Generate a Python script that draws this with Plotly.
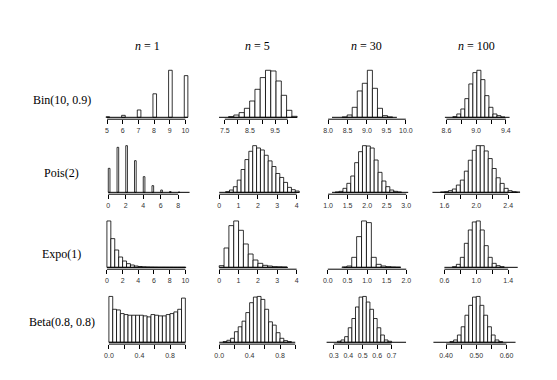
import plotly.graph_objects as go

# ---------------- data ----------------
row_labels = ["Bin(10, 0.9)", "Pois(2)", "Expo(1)", "Beta(0.8, 0.8)"]
row_label_y = [100, 173, 254, 322]
sample_sizes = [1, 5, 30, 100]

# each histogram: first bar left edge, step between bars, bar width, heights
bin_n1_bins = (4.93, 1.0, 0.23)
bin_n1_heights = [0.5, 2, 7.4, 23.7, 47.4, 42]
bin_n5_bins = (7.65, 0.21, 0.21)
bin_n5_heights = [0.7, 2.3, 4.7, 9, 16.3, 28, 39.7, 47, 46.3, 36.3, 22, 7, 1]
bin_n30_bins = (8.36, 0.13, 0.13)
bin_n30_heights = [1, 7, 30, 79, 102, 141, 87, 27, 5, 1]
bin_n100_bins = (8.686, 0.054, 0.054)
bin_n100_heights = [2, 10, 25, 56, 100, 134, 141, 113, 65, 30, 10, 5, 1]

pois_n1_bins = (0.0, 1.0, 0.19)
pois_n1_heights = [72, 135, 140, 95, 47, 20, 7, 2, 0.5]
pois_n5_bins = (0.33, 0.2, 0.2)
pois_n5_heights = [2, 7, 17, 37, 69, 99, 124, 141, 134, 128, 112, 95, 78, 57, 45, 30, 15, 8, 4]
pois_n30_bins = (1.18, 0.1, 0.1)
pois_n30_heights = [1, 3, 12, 27, 49, 89, 122, 140, 139, 133, 97, 60, 34, 17, 7, 3, 1]
pois_n100_bins = (1.55, 0.05, 0.05)
pois_n100_heights = [1, 2, 5, 10, 22, 37, 64, 97, 127, 141, 141, 125, 102, 72, 44, 27, 12, 5, 2, 1]

expo_n1_bins = (0.0, 0.5, 0.5)
expo_n1_heights = [139, 86, 52, 31, 19, 11, 7, 4, 2.5, 1.5, 1, 0.7, 0.5, 0.3, 0.3, 0.2, 0.2, 0.1, 0.1, 0.1]
expo_n5_bins = (0.0, 0.25, 0.25)
expo_n5_heights = [5, 58, 125, 139, 111, 70, 40, 22, 12, 6, 4, 2, 1.5, 1]
expo_n30_bins = (0.36, 0.125, 0.125)
expo_n30_heights = [1, 4, 30, 92, 139, 134, 30, 9, 4, 2, 1, 0.5]
expo_n100_bins = (0.70, 0.05, 0.05)
expo_n100_heights = [2, 9, 30, 72, 112, 136, 139, 112, 65, 30, 12, 5, 2]

beta_n1_bins = (0.0, 0.05, 0.05)
beta_n1_heights = [139, 100, 98, 87, 84, 82, 82, 82, 82, 80, 77, 84, 82, 80, 80, 84, 87, 92, 100, 134]
beta_n5_bins = (0.05, 0.05, 0.05)
beta_n5_heights = [2, 6, 12, 32, 47, 64, 90, 120, 137, 139, 130, 100, 62, 52, 29, 12, 5, 2]
beta_n30_bins = (0.325, 0.025, 0.025)
beta_n30_heights = [3, 7, 17, 44, 72, 107, 137, 139, 122, 100, 72, 44, 22, 7, 3]
beta_n100_bins = (0.4125, 0.0125, 0.0125)
beta_n100_heights = [2, 7, 22, 47, 82, 112, 137, 139, 112, 82, 47, 22, 7, 2]

# extent of the zero line (empty bins) of every histogram
baselines = [
    [(4.98, 10.16), (7.27, 10.38), (8.1, 9.77), (8.58, 9.45)],
    [(0.0, 9.3), (0.0, 4.15), (1.1, 3.05), (1.4, 2.52)],
    [(0.0, 10.1), (0.0, 3.55), (0.4, 1.85), (0.6, 1.52)],
    [(0.0, 1.0), (0.0, 1.0), (0.25, 0.8), (0.358, 0.63)],
]

# tick values and tick labels ("" = tick without label)
ticks = [
    [([5, 6, 7, 8, 9, 10], ["5", "6", "7", "8", "9", "10"]),
     ([7.5, 8.0, 8.5, 9.0, 9.5, 10.0], ["7.5", "", "8.5", "", "9.5", ""]),
     ([8.0, 8.5, 9.0, 9.5, 10.0], ["8.0", "8.5", "9.0", "9.5", "10.0"]),
     ([8.6, 8.8, 9.0, 9.2, 9.4], ["8.6", "", "9.0", "", "9.4"])],
    [([0, 2, 4, 6, 8], ["0", "2", "4", "6", "8"]),
     ([0, 1, 2, 3, 4], ["0", "1", "2", "3", "4"]),
     ([1.0, 1.5, 2.0, 2.5, 3.0], ["1.0", "1.5", "2.0", "2.5", "3.0"]),
     ([1.6, 1.8, 2.0, 2.2, 2.4], ["1.6", "", "2.0", "", "2.4"])],
    [([0, 2, 4, 6, 8, 10], ["0", "2", "4", "6", "8", "10"]),
     ([0, 1, 2, 3, 4], ["0", "1", "2", "3", "4"]),
     ([0.0, 0.5, 1.0, 1.5, 2.0], ["0.0", "0.5", "1.0", "1.5", "2.0"]),
     ([0.6, 0.8, 1.0, 1.2, 1.4], ["0.6", "", "1.0", "", "1.4"])],
    [([0.0, 0.2, 0.4, 0.6, 0.8, 1.0], ["0.0", "", "0.4", "", "0.8", ""]),
     ([0.0, 0.2, 0.4, 0.6, 0.8, 1.0], ["0.0", "", "0.4", "", "0.8", ""]),
     ([0.3, 0.4, 0.5, 0.6, 0.7], ["0.3", "0.4", "0.5", "0.6", "0.7"]),
     ([0.40, 0.45, 0.50, 0.55, 0.60], ["0.40", "", "0.50", "", "0.60"])],
]

# visible x window of each panel
x_ranges = [
    [(4.78, 10.38), (7.04, 10.53), (7.864, 10.121), (8.412, 9.592)],
    [(-0.535, 9.5), (-0.309, 4.22), (0.865, 3.11), (1.45, 2.55)],
    [(-0.419, 10.76), (-0.309, 4.22), (-0.127, 2.109), (0.45, 1.55)],
    [(-0.069, 1.078), (-0.079, 1.075), (0.224, 0.831), (0.3548, 0.6452)],
]

hist_bins = [
    [bin_n1_bins, bin_n5_bins, bin_n30_bins, bin_n100_bins],
    [pois_n1_bins, pois_n5_bins, pois_n30_bins, pois_n100_bins],
    [expo_n1_bins, expo_n5_bins, expo_n30_bins, expo_n100_bins],
    [beta_n1_bins, beta_n5_bins, beta_n30_bins, beta_n100_bins],
]
hist_heights = [
    [bin_n1_heights, bin_n5_heights, bin_n30_heights, bin_n100_heights],
    [pois_n1_heights, pois_n5_heights, pois_n30_heights, pois_n100_heights],
    [expo_n1_heights, expo_n5_heights, expo_n30_heights, expo_n100_heights],
    [beta_n1_heights, beta_n5_heights, beta_n30_heights, beta_n100_heights],
]

# ---------------- layout geometry (pixels) ----------------
W, H = 557, 380
col_px = [(104, 192), (214, 302), (324, 412), (434, 522)]
row_px = [(68.4, 119.2), (143.8, 194.2), (219.1, 269.2), (294.6, 344.1)]

SERIF = "Liberation Serif, DejaVu Serif, serif"
SANS = "Liberation Sans, Arial, sans-serif"

fig = go.Figure()
layout = dict(
    width=W, height=H, margin=dict(l=0, r=0, t=0, b=0),
    paper_bgcolor="white", plot_bgcolor="white", showlegend=False,
)
shapes = []
annotations = []

for r in range(4):
    for c in range(4):
        k = r * 4 + c + 1
        xa = "x" if k == 1 else f"x{k}"
        ya = "y" if k == 1 else f"y{k}"
        start, step, width = hist_bins[r][c]
        heights = hist_heights[r][c]
        centers = [start + i * step + width / 2 for i in range(len(heights))]
        b0, b1 = baselines[r][c]
        fig.add_trace(go.Scatter(x=[b0, b1], y=[0, 0], mode="lines",
                                 line=dict(color="black", width=1),
                                 xaxis=xa, yaxis=ya, hoverinfo="skip"))
        fig.add_trace(go.Bar(x=centers, y=heights, width=width,
                             marker=dict(color="white", line=dict(color="black", width=0.8)),
                             xaxis=xa, yaxis=ya))
        m = max(heights)
        tv, tt = ticks[r][c]
        layout["xaxis" if k == 1 else f"xaxis{k}"] = dict(
            domain=[col_px[c][0] / W, col_px[c][1] / W],
            range=list(x_ranges[r][c]), anchor=ya,
            tickmode="array", tickvals=tv, ticktext=tt,
            ticks="outside", ticklen=4, tickwidth=1, tickcolor="black",
            showline=False, showgrid=False, zeroline=False,
            tickfont=dict(family=SANS, size=7, color="#333"),
        )
        layout["yaxis" if k == 1 else f"yaxis{k}"] = dict(
            domain=[1 - row_px[r][1] / H, 1 - row_px[r][0] / H],
            range=[-0.04 * m, 1.04 * m], anchor=xa, visible=False,
        )
        shapes.append(dict(type="line", xref=xa, yref=f"{ya} domain",
                           x0=tv[0], x1=tv[-1], y0=0, y1=0,
                           line=dict(color="black", width=1)))

for c, n in enumerate(sample_sizes):
    annotations.append(dict(
        x=(col_px[c][0] + col_px[c][1]) / 2 / W, y=1 - 46 / H,
        xref="paper", yref="paper", showarrow=False,
        text=f"<i>n</i> = {n}", xanchor="center", yanchor="middle",
        font=dict(family=SERIF, size=12, color="black")))

for r, lab in enumerate(row_labels):
    annotations.append(dict(
        x=62 / W, y=1 - row_label_y[r] / H, xref="paper", yref="paper",
        showarrow=False, text=lab, xanchor="center", yanchor="middle",
        font=dict(family=SERIF, size=12, color="black")))

layout["shapes"] = shapes
layout["annotations"] = annotations
fig.update_layout(**layout)
fig.write_html("out.html", config={"displayModeBar": False},
               post_script="document.body.style.margin='0px';")
